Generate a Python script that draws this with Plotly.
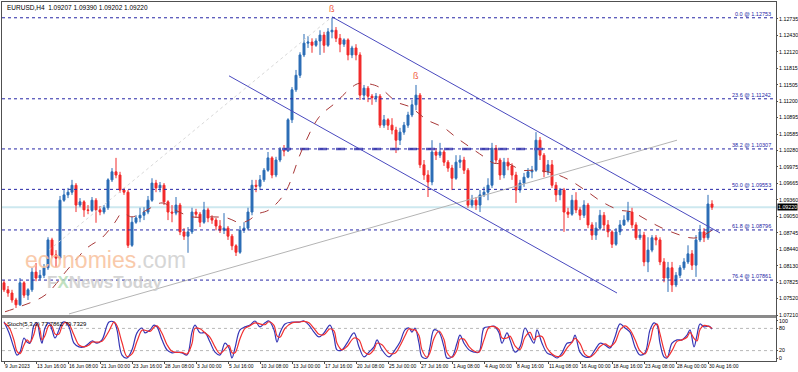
import plotly.graph_objects as go

# ---------------- data (EURUSD H4) ----------------
opens = [1.0781,1.0768,1.0762,1.0749,1.0740,1.0781,1.0758,1.0768,1.0801,1.0790,
         1.0795,1.0809,1.0861,1.0833,1.0827,1.0935,1.0945,1.0950,1.0963,1.0926,
         1.0932,1.0917,1.0916,1.0935,1.0917,1.0913,1.0921,1.0973,1.0988,1.0982,
         1.0954,1.0950,1.0851,1.0894,1.0902,1.0907,1.0913,1.0935,1.0967,1.0958,
         1.0963,1.0932,1.0913,1.0911,1.0926,1.0876,1.0868,1.0876,1.0913,1.0909,
         1.0894,1.0917,1.0902,1.0898,1.0887,1.0879,1.0883,1.0868,1.0850,1.0838,
         1.0879,1.0883,1.0913,1.0963,1.0961,1.0973,1.0991,1.1014,1.0982,1.1010,
         1.1029,1.1027,1.1085,1.1141,1.1168,1.1206,1.1228,1.1230,1.1224,1.1232,
         1.1243,1.1224,1.1249,1.1252,1.1237,1.1226,1.1234,1.1206,1.1219,1.1206,
         1.1131,1.1144,1.1129,1.1126,1.1129,1.1075,1.1085,1.1075,1.1066,1.1047,
         1.1062,1.1075,1.1094,1.1113,1.1131,1.1001,1.0982,1.0969,1.1025,1.1019,
         1.1025,1.1006,1.0995,1.0976,1.1006,1.1010,1.0991,1.0926,1.0935,1.0926,
         1.0945,1.0950,1.0963,1.1032,1.1010,1.0982,1.1006,1.0999,1.0982,1.0954,
         1.0967,1.0978,1.0988,1.0991,1.1047,1.1019,1.0988,1.1001,1.0963,1.0945,
         1.0954,1.0913,1.0909,1.0935,1.0917,1.0907,1.0926,1.0889,1.0870,1.0883,
         1.0907,1.0889,1.0876,1.0853,1.0876,1.0889,1.0898,1.0913,1.0889,1.0865,
         1.0870,1.0820,1.0842,1.0865,1.0861,1.0820,1.0790,1.0809,1.0777,1.0795,
         1.0809,1.0820,1.0835,1.0814,1.0861,1.0876,1.0865,1.0928]
highs = [1.0786,1.0775,1.0768,1.0753,1.0790,1.0784,1.0771,1.0809,1.0818,1.0805,
         1.0816,1.0866,1.0865,1.0842,1.0943,1.0954,1.0958,1.0973,1.0967,1.0939,
         1.0935,1.0926,1.0941,1.0939,1.0924,1.0926,1.0976,1.0995,1.1014,1.0988,
         1.0958,1.0954,1.0904,1.0907,1.0921,1.0922,1.0943,1.0976,1.0973,1.0969,
         1.0967,1.0935,1.0926,1.0941,1.0930,1.0883,1.0885,1.0921,1.0919,1.0913,
         1.0932,1.0921,1.0907,1.0902,1.0898,1.0911,1.0887,1.0872,1.0853,1.0887,
         1.0894,1.0921,1.0973,1.0973,1.0982,1.0995,1.1025,1.1017,1.1016,1.1034,
         1.1038,1.1088,1.1146,1.1178,1.1211,1.1245,1.1241,1.1237,1.1237,1.1252,
         1.1249,1.1256,1.1275,1.1258,1.1245,1.1237,1.1237,1.1223,1.1226,1.1211,
         1.1150,1.1148,1.1133,1.1135,1.1133,1.1094,1.1088,1.1088,1.1072,1.1070,
         1.1081,1.1100,1.1122,1.1150,1.1135,1.1010,1.0991,1.1047,1.1032,1.1042,
         1.1029,1.1010,1.1001,1.1019,1.1019,1.1016,1.0995,1.0945,1.0941,1.0954,
         1.0960,1.0976,1.1042,1.1038,1.1014,1.1014,1.1014,1.1004,1.0988,1.0973,
         1.0986,1.0995,1.0999,1.1062,1.1053,1.1023,1.1010,1.1010,1.0969,1.0958,
         1.0958,1.0921,1.0945,1.0950,1.0922,1.0935,1.0930,1.0894,1.0894,1.0917,
         1.0913,1.0898,1.0879,1.0883,1.0898,1.0907,1.0932,1.0921,1.0894,1.0879,
         1.0876,1.0866,1.0870,1.0870,1.0866,1.0827,1.0820,1.0820,1.0801,1.0814,
         1.0827,1.0851,1.0842,1.0870,1.0889,1.0883,1.0945,1.0935]
lows = [1.0764,1.0755,1.0744,1.0734,1.0738,1.0753,1.0749,1.0764,1.0784,1.0786,
        1.0790,1.0805,1.0827,1.0810,1.0824,1.0932,1.0939,1.0945,1.0913,1.0922,
        1.0904,1.0909,1.0913,1.0893,1.0907,1.0909,1.0917,1.0969,1.0976,1.0949,
        1.0945,1.0846,1.0848,1.0891,1.0894,1.0898,1.0909,1.0932,1.0950,1.0950,
        1.0926,1.0898,1.0894,1.0907,1.0870,1.0861,1.0837,1.0872,1.0902,1.0885,
        1.0891,1.0894,1.0891,1.0879,1.0874,1.0872,1.0861,1.0842,1.0831,1.0835,
        1.0874,1.0879,1.0907,1.0950,1.0954,1.0969,1.0988,1.0976,1.0978,1.1006,
        1.1017,1.1025,1.1079,1.1137,1.1163,1.1202,1.1219,1.1210,1.1221,1.1206,
        1.1210,1.1221,1.1237,1.1230,1.1211,1.1221,1.1196,1.1200,1.1196,1.1122,
        1.1122,1.1118,1.1113,1.1118,1.1070,1.1070,1.1066,1.1058,1.1023,1.1038,
        1.1057,1.1070,1.1090,1.1103,1.0995,1.0973,1.0941,1.0963,1.1010,1.1014,
        1.0999,1.0988,1.0954,1.0973,1.0995,1.0984,1.0921,1.0921,1.0917,1.0913,
        1.0941,1.0935,1.0958,1.1004,1.0973,1.0976,1.0991,1.0973,1.0930,1.0949,
        1.0960,1.0976,1.0976,1.0988,1.1010,1.0978,1.0982,1.0958,1.0932,1.0935,
        1.0876,1.0902,1.0906,1.0911,1.0898,1.0902,1.0883,1.0861,1.0861,1.0879,
        1.0879,1.0866,1.0846,1.0850,1.0870,1.0887,1.0894,1.0883,1.0861,1.0861,
        1.0812,1.0801,1.0838,1.0851,1.0814,1.0782,1.0764,1.0764,1.0773,1.0790,
        1.0805,1.0816,1.0805,1.0792,1.0857,1.0857,1.0861,1.0917]
closes = [1.0768,1.0762,1.0749,1.0740,1.0781,1.0758,1.0768,1.0801,1.0790,1.0795,
          1.0809,1.0861,1.0833,1.0827,1.0935,1.0945,1.0950,1.0963,1.0926,1.0932,
          1.0917,1.0916,1.0935,1.0917,1.0913,1.0921,1.0973,1.0988,1.0982,1.0954,
          1.0950,1.0851,1.0894,1.0902,1.0907,1.0913,1.0935,1.0967,1.0958,1.0963,
          1.0932,1.0913,1.0911,1.0926,1.0876,1.0868,1.0876,1.0913,1.0909,1.0894,
          1.0917,1.0902,1.0898,1.0887,1.0879,1.0883,1.0868,1.0850,1.0838,1.0879,
          1.0883,1.0913,1.0963,1.0961,1.0973,1.0991,1.1014,1.0982,1.1010,1.1029,
          1.1027,1.1085,1.1141,1.1168,1.1206,1.1228,1.1230,1.1224,1.1232,1.1243,
          1.1224,1.1249,1.1252,1.1237,1.1226,1.1234,1.1206,1.1219,1.1206,1.1131,
          1.1144,1.1129,1.1126,1.1129,1.1075,1.1085,1.1075,1.1066,1.1047,1.1062,
          1.1075,1.1094,1.1113,1.1131,1.1001,1.0982,1.0969,1.1025,1.1019,1.1025,
          1.1006,1.0995,1.0976,1.1006,1.1010,1.0991,1.0926,1.0935,1.0926,1.0945,
          1.0950,1.0963,1.1032,1.1010,1.0982,1.1006,1.0999,1.0982,1.0954,1.0967,
          1.0978,1.0988,1.0991,1.1047,1.1019,1.0988,1.1001,1.0963,1.0945,1.0954,
          1.0913,1.0909,1.0935,1.0917,1.0907,1.0926,1.0889,1.0870,1.0883,1.0907,
          1.0889,1.0876,1.0853,1.0876,1.0889,1.0898,1.0913,1.0889,1.0865,1.0870,
          1.0820,1.0842,1.0865,1.0861,1.0820,1.0790,1.0809,1.0777,1.0795,1.0809,
          1.0820,1.0835,1.0814,1.0861,1.0876,1.0865,1.0928,1.0922]

# dashed moving average (bar index / price)
ma_x = [0.5,7.5,20.5,32.5,41.5,49,55.5,59,64,71.5,79,86.5,94,104,111.5,118,122.5,126.5,
        132.5,140.5,149,157.5,165.5,174,177.5,182.5,187.5,196.5,203,211.5,220,226.5,233,
        240,245,251.5,259,265.5,274,282.5,290.5,299,307.5,314,321.5,328,336.5,343,346.5,350,354]
ma_y = [1.0727,1.0736,1.0758,1.0809,1.0846,1.0865,1.0894,1.0911,1.0904,1.0917,1.0930,1.0915,
        1.0904,1.0904,1.0902,1.0893,1.0898,1.0909,1.0917,1.0949,1.1029,1.1090,1.1116,1.1146,
        1.1153,1.1152,1.1146,1.1118,1.1109,1.1085,1.1070,1.1051,1.1034,1.1016,1.1004,1.1004,
        1.0991,1.0991,1.0986,1.0973,1.0954,1.0932,1.0917,1.0913,1.0898,1.0885,1.0872,1.0865,
        1.0865,1.0870,1.0879]

# stochastic oscillator (bar index / value)
stoch_x = [0,2.5,5,6.5,8,10,11.5,13,15,16.5,18,19,20.5,22.5,24,25.5,27.5,29,30.5,32.5,
           35,37.5,40,42.5,44,46.5,49,52.5,55,56.5,59,61.5,64,66.5,69,70.5,73,75,76.5,79,
           81.5,84,86.5,89,91.5,94,95.5,98,100.5,103,105.5,108,110.5,112.5,114,115.5,118,120.5,123,125.5,
           128,130.5,132.5,135,136.5,138,140.5,144,147.5,150,152.5,155,157.5,160,163,165,166.5,169,171.5,175,
           177.5,180,182.5,185,186.5,189,192.5,195.5,198,200.5,202.5,204,205.5,207.5,209,211.5,213,215,217.5,220,
           221.5,224,226.5,228,230,232.5,235,237.5,240,242.5,245,247.5,249,251.5,253,255.5,258,260.5,263,265,
           266.5,269,271.5,274,276.5,279,281.5,284,285.5,288,290.5,293,295.5,298,300.5,303,305.5,308,310.5,313,
           315.5,318,320.5,323,325,326.5,328,330,331.5,334,336.5,339,341.5,343,345,346.5,348,350,352.5,354]
stoch_main = [98,68,27,8,16,54,43,40,89,95,57,40,81,95,76,54,76,95,97,84,
              40,30,30,40,46,40,49,97,97,76,8,0,22,68,81,68,76,89,84,49,
              22,14,16,14,8,70,89,68,68,43,16,8,40,27,0,27,76,84,89,100,
              84,95,100,76,43,68,92,97,97,100,89,70,57,68,89,57,22,22,40,68,
              30,3,16,30,49,22,3,22,43,76,81,70,81,40,3,0,30,76,70,30,
              0,3,40,62,40,22,16,16,81,84,86,68,40,68,49,16,30,81,57,40,
              76,40,14,8,0,14,40,43,62,16,3,3,22,40,35,27,57,92,81,70,
              30,8,14,76,95,89,40,3,0,40,49,49,62,76,30,62,92,84,86,78]
stoch_signal = [95,83,48,18,12,35,49,42,65,92,76,49,61,88,86,65,65,86,96,91,
                62,35,30,35,43,43,45,73,97,87,42,4,11,45,75,75,72,83,87,67,
                36,18,15,15,11,39,80,79,68,56,30,12,24,34,14,14,52,80,87,95,
                92,90,98,88,60,56,80,95,97,99,95,80,64,63,79,73,40,22,31,54,
                49,17,10,23,40,36,13,13,33,60,79,76,76,61,22,2,15,53,73,50,
                15,2,22,51,51,31,19,16,49,83,85,77,54,54,59,33,23,56,69,49,
                58,58,27,11,4,7,27,42,53,39,10,3,13,31,38,31,42,75,87,76,
                50,19,11,45,86,92,65,22,2,20,45,49,56,69,53,46,77,88,85,80]

# chart objects (bar index / price)
fib_levels = [1.12753, 1.11242, 1.10307, 1.09553, 1.08796, 1.07861]
fib_names = ["0.0", "23.6", "38.2", "50.0", "61.8", "76.4"]
current_price = 1.09220
price_ticks = [1.12735,1.12430,1.12120,1.11815,1.11505,1.11200,1.10895,1.10585,1.10280,
               1.09975,1.09665,1.09360,1.09050,1.08745,1.08440,1.08130,1.07825,1.07520,1.07210]
date_ticks = [0,16,32,48,64,80,96,112,128,144,160,176,192,208,224,240,256,272,288,304,320,336,352]
date_labels = ["9 Jun 2023","13 Jun 16:00","16 Jun 08:00","21 Jun 00:00","23 Jun 16:00",
               "28 Jun 08:00","3 Jul 00:00","5 Jul 16:00","10 Jul 08:00","13 Jul 00:00",
               "17 Jul 16:00","20 Jul 08:00","25 Jul 00:00","27 Jul 16:00","1 Aug 08:00",
               "4 Aug 00:00","8 Aug 16:00","11 Aug 08:00","16 Aug 00:00","18 Aug 16:00",
               "23 Aug 08:00","28 Aug 00:00","30 Aug 16:00"]
upper_ch_x, upper_ch_y = [164, 358], [1.1277, 1.0874]
lower_ch_x, lower_ch_y = [112.5, 306.5], [1.1167, 1.0762]
trend_x, trend_y = [32.5, 336.5], [1.0723, 1.1047]
fib_anchor_x, fib_anchor_y = [22.5, 164], [1.0842, 1.1277]
level_seg_x, level_seg_y = [139, 271], [1.10307, 1.10307]
marker_x, marker_y = [164, 206], [1.1275, 1.1150]

FONT = "Liberation Sans"
NAVY = "#2626a6"

fig = go.Figure()
cx = [2 * i for i in range(len(closes))]

# background line objects
fig.add_trace(go.Scatter(x=fib_anchor_x, y=fib_anchor_y, mode="lines",
                         line=dict(color="#d9d9d9", width=1, dash="dot"), hoverinfo="skip", showlegend=False))
fig.add_trace(go.Scatter(x=trend_x, y=trend_y, mode="lines",
                         line=dict(color="#b4b4b4", width=1), hoverinfo="skip", showlegend=False))
fig.add_trace(go.Scatter(x=level_seg_x, y=level_seg_y, mode="lines",
                         line=dict(color="#5d5dbe", width=2.5, dash="dash"), hoverinfo="skip", showlegend=False))
fig.add_trace(go.Scatter(x=upper_ch_x, y=upper_ch_y, mode="lines",
                         line=dict(color="#4a4abf", width=1), hoverinfo="skip", showlegend=False))
fig.add_trace(go.Scatter(x=lower_ch_x, y=lower_ch_y, mode="lines",
                         line=dict(color="#4a4abf", width=1), hoverinfo="skip", showlegend=False))
fig.add_trace(go.Scatter(x=ma_x, y=ma_y, mode="lines", line_shape="spline",
                         line=dict(color="#a83838", width=1, dash="dash"), hoverinfo="skip", showlegend=False))

fig.add_trace(go.Candlestick(
    x=cx, open=opens, high=highs, low=lows, close=closes,
    increasing=dict(line=dict(color="#2b6db5", width=1), fillcolor="#2b6db5"),
    decreasing=dict(line=dict(color="#f22a2a", width=1), fillcolor="#f22a2a"),
    whiskerwidth=0, hoverinfo="skip", showlegend=False, xaxis="x", yaxis="y"))

# stochastic
fig.add_trace(go.Scatter(x=stoch_x, y=stoch_main, mode="lines", line_shape="spline",
                         line=dict(color="#3535b5", width=1.2), xaxis="x2", yaxis="y2",
                         hoverinfo="skip", showlegend=False))
fig.add_trace(go.Scatter(x=stoch_x, y=stoch_signal, mode="lines", line_shape="spline",
                         line=dict(color="#f03030", width=1.2), xaxis="x2", yaxis="y2",
                         hoverinfo="skip", showlegend=False))

shapes = []
annotations = []
# current price line
shapes.append(dict(type="line", xref="paper", x0=0, x1=1, yref="y", y0=current_price, y1=current_price,
                   line=dict(color="#cde8ef", width=2), layer="below"))
for name, lv in zip(fib_names, fib_levels):
    shapes.append(dict(type="line", xref="paper", x0=0, x1=1, yref="y", y0=lv, y1=lv,
                       line=dict(color=NAVY, width=1, dash="dot"), layer="above"))
    annotations.append(dict(xref="paper", x=0.996, yref="y", y=lv, xanchor="right", yanchor="bottom",
                            text=f"{name} @ {lv:.5f}", showarrow=False,
                            font=dict(size=5.5, color=NAVY, family=FONT), yshift=-1))
for lv in (20, 80):
    shapes.append(dict(type="line", xref="paper", x0=0, x1=1, yref="y2", y0=lv, y1=lv,
                       line=dict(color="#b8b8b8", width=1, dash="dot"), layer="below"))
# panel separator
shapes.append(dict(type="line", xref="paper", x0=0, x1=1, yref="paper", y0=0.1240, y1=0.1240,
                   line=dict(color="#8a8a8a", width=3)))

# current price tag
annotations.append(dict(xref="paper", x=1, yref="y", y=current_price, xanchor="left", yanchor="middle",
                        text="1.09220", showarrow=False, bgcolor="black", borderpad=0, xshift=1,
                        font=dict(size=5.3, color="white", family=FONT)))
# header / indicator labels
annotations.append(dict(xref="paper", x=0.004, yref="paper", y=1, xanchor="left", yanchor="top",
                        text="EURUSD,H4  1.09207 1.09390 1.09202 1.09220", showarrow=False,
                        font=dict(size=6.5, color="black", family=FONT), yshift=0))
annotations.append(dict(xref="paper", x=0.004, yref="paper", y=0.118, xanchor="left", yanchor="top",
                        text="Stoch(5,3,3) 77.7862 79.7329", showarrow=False,
                        font=dict(size=6, color="black", family=FONT)))
# arrow markers
for mx, my in zip(marker_x, marker_y):
    annotations.append(dict(x=mx, y=my, xref="x", yref="y", text="ß", showarrow=False,
                            font=dict(size=9, color="#f05a3c", family=FONT), yshift=9))
# watermark
annotations.append(dict(xref="paper", x=0.027, yref="paper", y=0.282, xanchor="left", yanchor="middle",
                        text='<span style="color:#f9c19c">economies</span><span style="color:#cfcfcf">.com</span>',
                        showarrow=False, font=dict(size=23, family=FONT), opacity=0.85))
annotations.append(dict(xref="paper", x=0.056, yref="paper", y=0.220, xanchor="left", yanchor="middle",
                        text='<b><span style="color:#cdcdcd">F</span><span style="color:#b6dcb6">X</span>'
                             '<span style="color:#cdcdcd">NewsToday</span></b>',
                        showarrow=False, font=dict(size=17, family=FONT), opacity=0.85))

axis_common = dict(showgrid=False, zeroline=False, showline=True, mirror=True,
                   linecolor="#505050", linewidth=1, automargin=False)

fig.update_layout(
    width=798, height=372,
    margin=dict(l=2, r=22, t=2, b=11),
    paper_bgcolor="white", plot_bgcolor="white",
    template="none",
    showlegend=False,
    xaxis=dict(domain=[0, 1], range=[-1, 386], anchor="y", showticklabels=False, ticks="",
               rangeslider=dict(visible=False), **axis_common),
    yaxis=dict(domain=[0.1253, 1], range=[1.07191, 1.13047], anchor="x", side="right",
               tickvals=price_ticks, ticktext=[f"{v:.5f}" for v in price_ticks],
               ticks="outside", ticklen=1, tickcolor="#505050",
               tickfont=dict(size=5.3, color="black", family=FONT), **axis_common),
    xaxis2=dict(domain=[0, 1], range=[-1, 386], anchor="y2", matches="x",
                tickvals=date_ticks, ticktext=date_labels, ticklabelposition="outside right",
                tickangle=0, ticks="outside", ticklen=2, tickcolor="#505050",
                tickfont=dict(size=5, color="black", family=FONT), **axis_common),
    yaxis2=dict(domain=[0, 0.1198], range=[-8.1, 108.1], anchor="x2", side="right",
                tickvals=[0, 20, 80, 100], ticktext=["0", "20", "80", "100"],
                ticks="outside", ticklen=1, tickcolor="#505050",
                tickfont=dict(size=5.3, color="black", family=FONT), **axis_common),
    shapes=shapes,
    annotations=annotations,
)

fig.write_html("out.html", config={"displayModeBar": False},
               post_script="document.body.style.margin='0px';document.body.style.overflow='hidden';")
